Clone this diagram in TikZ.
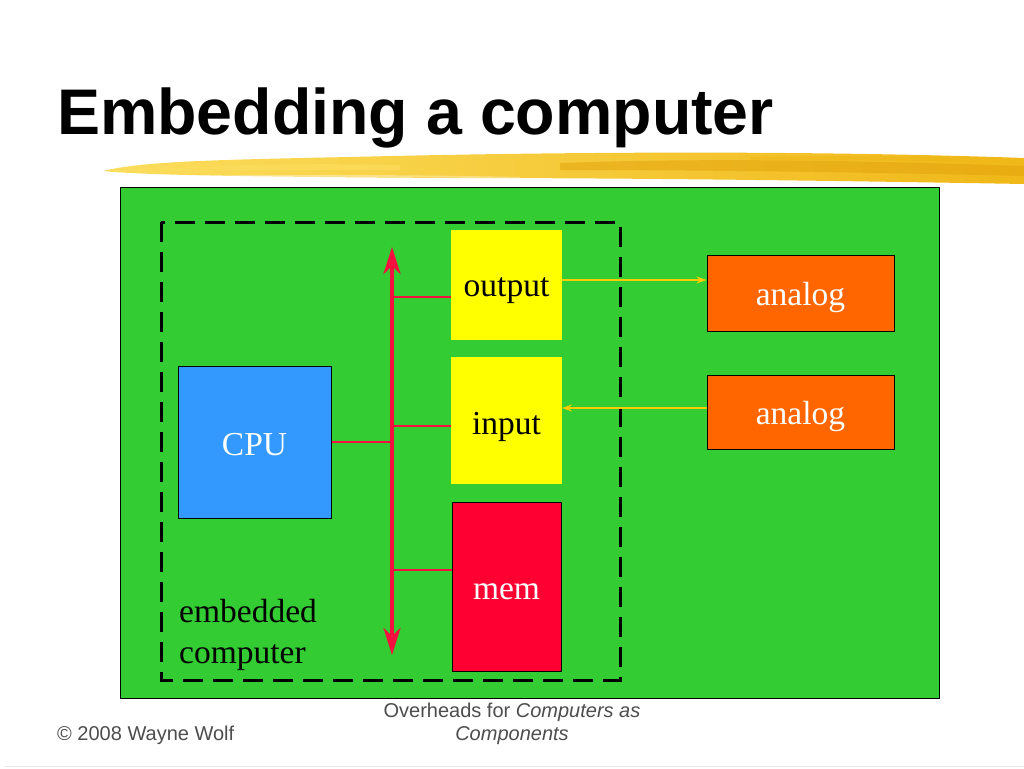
\documentclass[tikz,border=0pt]{standalone}
\usepackage{fontspec}
\setmainfont{Liberation Serif}
\setsansfont{Liberation Sans}
\usetikzlibrary{arrows.meta}
\definecolor{boardgreen}{HTML}{33CC33}
\definecolor{cpublue}{HTML}{3399FF}
\definecolor{ioyellow}{HTML}{FFFF00}
\definecolor{memred}{HTML}{FF0033}
\definecolor{anorange}{HTML}{FF6600}
\definecolor{busred}{HTML}{F5103F}
\definecolor{sigyellow}{HTML}{FFCC00}
\definecolor{footgray}{HTML}{4D4D4D}
\definecolor{brushA}{HTML}{FBDD5C}
\definecolor{brushB}{HTML}{F0B818}
\definecolor{brushC}{HTML}{E3A20C}
\tikzset{
  box/.style={draw=black, line width=1pt, inner sep=0pt},
  plainbox/.style={inner sep=0pt},
  lbl/.style={font=\fontsize{33.5}{38}\selectfont, anchor=base, inner sep=0pt},
  bus/.style={draw=busred, line width=4pt, {Stealth[length=27pt,width=17pt,inset=8pt]}-{Stealth[length=27pt,width=17pt,inset=8pt]}},
  branch/.style={draw=busred, line width=2.5pt},
  sig/.style={draw=sigyellow, line width=2pt, -{Stealth[length=10pt,width=7pt]}},
  foot/.style={font=\fontsize{20}{23}\selectfont\sffamily, text=footgray, inner sep=0pt}
}
\begin{document}
\begin{tikzpicture}[x=1pt,y=-1pt]
\useasboundingbox (0,0) rectangle (1024,768);
\fill[white] (0,0) rectangle (1024,768);
% title
\node[font=\fontsize{64.5}{70}\selectfont\sffamily\bfseries, anchor=base west, inner sep=0pt] (title) at (57,134) {Embedding a computer};
% brush stroke
\shade[left color=brushA, right color=brushB]
  (103,171) .. controls (140,162) and (200,160) .. (350,157)
  .. controls (550,152) and (800,150) .. (1024,158)
  -- (1024,184) .. controls (850,181) and (650,178) .. (450,178)
  .. controls (300,177) and (150,176) .. (103,171) -- cycle;
\fill[brushC, opacity=0.5] (560,163) .. controls (700,158) and (850,160) .. (1024,166)
  -- (1024,176) .. controls (850,172) and (700,170) .. (560,170) -- cycle;
\fill[brushA, opacity=0.7] (110,170) .. controls (200,165) and (300,163) .. (400,165)
  -- (400,170) .. controls (300,170) and (200,171) .. (110,171) -- cycle;
\fill[brushB, opacity=0.6] (750,157) .. controls (850,155) and (950,156) .. (1024,160)
  -- (1024,164) .. controls (950,161) and (850,160) .. (750,160) -- cycle;
\fill[white, opacity=0.35] (170,176) .. controls (300,174) and (420,175) .. (520,177)
  -- (520,178.5) .. controls (420,177) and (300,176.5) .. (170,177) -- cycle;
% board
\node[box, fill=boardgreen, minimum width=819, minimum height=511, anchor=north west] (board) at (120,187) {};
% embedded computer boundary
\draw[line width=3pt, dash pattern=on 20pt off 10pt] (161,222) rectangle (620,680);
% boxes
\node[box, fill=cpublue, minimum width=153, minimum height=152] (cpu) at (254.5,442) {};
\node[plainbox, fill=ioyellow, minimum width=111, minimum height=110] (outbox) at (506.5,285) {};
\node[plainbox, fill=ioyellow, minimum width=111, minimum height=127] (inbox) at (506.5,420.5) {};
\node[box, fill=memred, minimum width=109, minimum height=169] (mem) at (506.5,587) {};
\node[box, fill=anorange, minimum width=187, minimum height=76] (an1) at (800.5,293) {};
\node[box, fill=anorange, minimum width=187, minimum height=74] (an2) at (800.5,412) {};
% labels
\node[lbl, text=white] (cputxt) at (254.5,455) {CPU};
\node[lbl, text=black] (outtxt) at (506.5,296) {output};
\node[lbl, text=black] (intxt) at (506.5,434) {input};
\node[lbl, text=white] (memtxt) at (506.5,599) {mem};
\node[lbl, text=white] (an1txt) at (800.5,305) {analog};
\node[lbl, text=white] (an2txt) at (800.5,424) {analog};
\node[lbl, anchor=base west, text=black] (emb1) at (179,622) {embedded};
\node[lbl, anchor=base west, text=black] (emb2) at (179,663) {computer};
% bus
\coordinate (bustop) at (392,247);
\coordinate (busbot) at (392,655);
\coordinate (bo) at (392,297);
\coordinate (bi) at (392,426);
\coordinate (bc) at (392,442);
\coordinate (bm) at (392,570);
\draw[branch] (bo) -- (bo -| outbox.west);
\draw[branch] (bi) -- (bi -| inbox.west);
\draw[branch] (bm) -- (bm -| mem.west);
\draw[branch] (cpu.east |- bc) -- (bc);
\draw[bus] (bustop) -- (busbot);
% analog signals
\coordinate (so) at (562,280);
\coordinate (si) at (562,408);
\draw[sig] (so) -- (so -| an1.west);
\draw[sig] (si -| an2.west) -- (si);
% footer
\node[foot, anchor=base west] (copy) at (57,740) {© 2008 Wayne Wolf};
\node[foot, anchor=base] (over1) at (512,717) {Overheads for \textit{Computers as}};
\node[foot, anchor=base] (over2) at (512,740) {\textit{Components}};
\draw[line width=1pt, draw={rgb,255:red,230;green,230;blue,230}] (5,766.5) -- (1024,766.5);
\end{tikzpicture}
\end{document}
